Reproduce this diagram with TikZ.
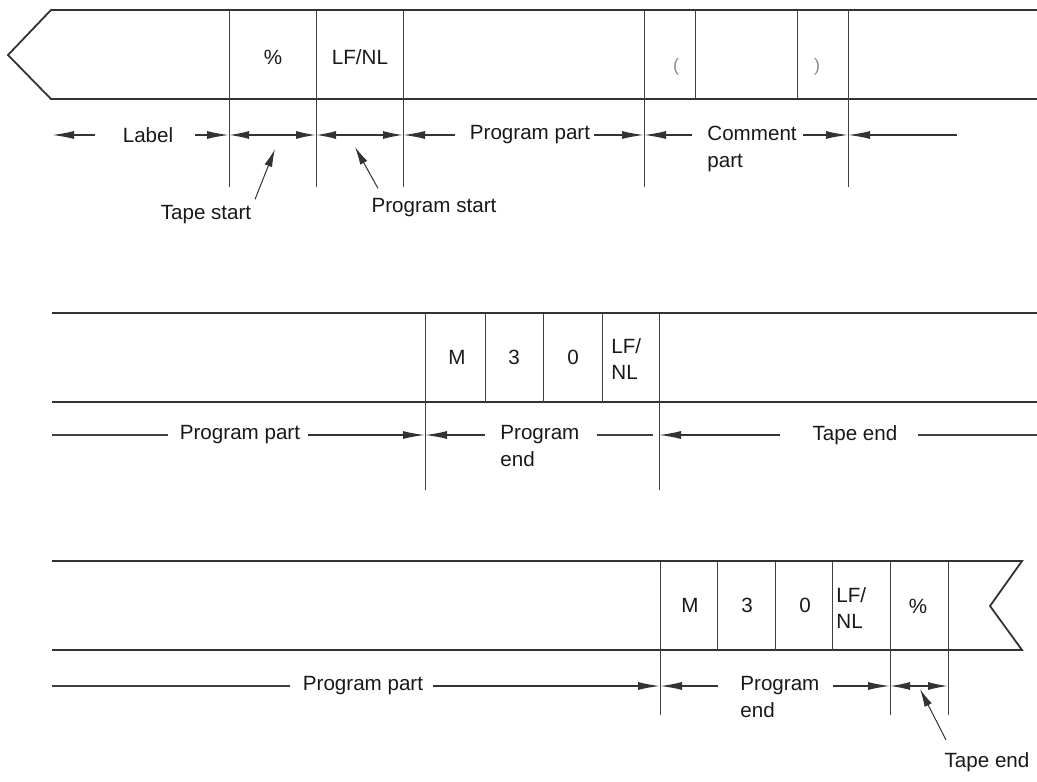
\documentclass[tikz,border=0pt]{standalone}
\usepackage{fontspec}
\setmainfont{Liberation Sans}
\usetikzlibrary{arrows.meta}

\begin{document}
\begin{tikzpicture}[x=0.5pt, y=-0.5pt,
  tape/.style={draw=black!80, line width=0.9pt},
  tick/.style={draw=black!75, line width=0.45pt},
  dim/.style={draw=black!80, line width=0.7pt, -{Latex[length=11pt,width=4pt]}},
  dimboth/.style={draw=black!80, line width=0.7pt, {Latex[length=10pt,width=4pt]}-{Latex[length=10pt,width=4pt]}},
  lead/.style={draw=black!80, line width=0.5pt, -{Latex[length=9pt,width=4pt]}},
  txt/.style={font=\fontsize{10.3}{13.2}\selectfont, text=black!90, inner sep=0pt},
  two/.style={txt, align=left, anchor=west},
  par/.style={font=\fontsize{9}{10}\selectfont, text=black!45, inner sep=0pt}]
  \useasboundingbox (0,0) rectangle (1037,781);

  % --- tape start
  \draw[tape] (1037,10) -- (51,10) -- (8,55) -- (51,99) -- (1037,99);
  \foreach \x in {229,316,403,644,848} \draw[tick] (\x,10) -- (\x,187);
  \foreach \x in {695,797} \draw[tick] (\x,10) -- (\x,99);
  \node[txt] (pct1) at (273,57) {\%};
  \node[txt] (lfnl1) at (360,57) {LF/NL};
  \node[par] (lpar) at (676,67) {(};
  \node[par] (rpar) at (817,67) {)};

  \node[txt] (label) at (148,135) {Label};
  \node[txt] (progpart1) at (530,135) {Program part};
  \node[two] (comment) at (707,149) {Comment\\part};
  \draw[dim] (95,135) -- (52,135);
  \draw[dim] (195,135) -- (229,135);
  \draw[dimboth] (229,135) -- (316,135);
  \draw[dimboth] (316,135) -- (403,135);
  \draw[dim] (455,135) -- (403,135);
  \draw[dim] (594,135) -- (644,135);
  \draw[dim] (692,135) -- (644,135);
  \draw[dim] (803,135) -- (848,135);
  \draw[dim] (957,135) -- (848,135);

  \node[txt] (tapestart) at (206,215) {Tape start};
  \node[txt] (progstart) at (434,208) {Program start};
  \coordinate (ts) at (275,149);
  \coordinate (ps) at (355,147);
  \draw[lead] (tapestart.north) ++(49,-6) -- (ts);
  \draw[lead] (progstart.north) ++(-56,-10) -- (ps);

  % --- program end
  \draw[tape] (52,313) -- (1037,313);
  \draw[tape] (52,402) -- (1037,402);
  \foreach \x in {425,659} \draw[tick] (\x,313) -- (\x,490);
  \foreach \x in {485,543,602} \draw[tick] (\x,313) -- (\x,402);
  \node[txt] (m2) at (457,357) {M};
  \node[txt] (three2) at (514,357) {3};
  \node[txt] (zero2) at (573,357) {0};
  \node[two] (lfnl2) at (611,359) {LF/\\NL};

  \node[txt] (progpart2) at (240,435) {Program part};
  \node[two] (progend2) at (500,446) {Program\\end};
  \node[txt] (tapeend2) at (855,435) {Tape end};
  \draw[tick, line width=0.7pt] (52,435) -- (168,435);
  \draw[dim] (308,435) -- (425,435);
  \draw[dim] (485,435) -- (425,435);
  \draw[tick, line width=0.7pt] (597,435) -- (653,435);
  \draw[dim] (780,435) -- (659,435);
  \draw[tick, line width=0.7pt] (918,435) -- (1037,435);

  % --- tape end
  \draw[tape] (52,561) -- (1022,561) -- (990,606) -- (1022,650) -- (52,650);
  \foreach \x in {660,890,948} \draw[tick] (\x,561) -- (\x,715);
  \foreach \x in {717,775,832} \draw[tick] (\x,561) -- (\x,650);
  \node[txt] (m3) at (690,605) {M};
  \node[txt] (three3) at (747,605) {3};
  \node[txt] (zero3) at (805,605) {0};
  \node[two] (lfnl3) at (836,608) {LF/\\NL};
  \node[txt] (pct3) at (918,606) {\%};

  \node[txt] (progpart3) at (363,686) {Program part};
  \node[two] (progend3) at (740,697) {Program\\end};
  \draw[tick, line width=0.7pt] (52,686) -- (290,686);
  \draw[dim] (433,686) -- (660,686);
  \draw[dim] (718,686) -- (660,686);
  \draw[dim] (833,686) -- (890,686);
  \draw[dimboth] (890,686) -- (948,686);

  \node[txt] (tapeend3) at (987,762) {Tape end};
  \coordinate (te) at (920,689);
  \draw[lead] (tapeend3.north) ++(-41,-12) -- (te);
\end{tikzpicture}
\end{document}
